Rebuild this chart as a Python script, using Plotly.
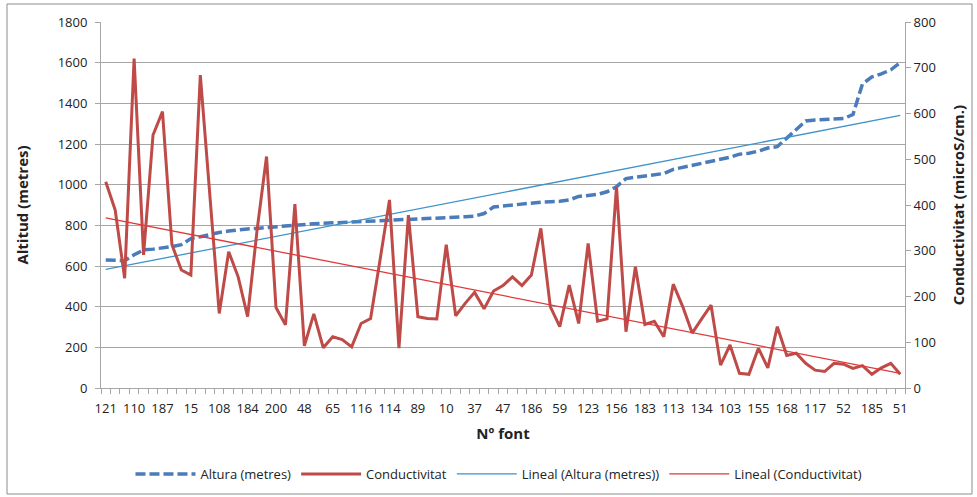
import numpy as np
import plotly.graph_objects as go

# Tick labels (every third source along the axis)
tick_labels = ["121", "110", "187", "15", "108", "184", "200", "48", "65", "116",
               "114", "89", "10", "37", "47", "186", "59", "123", "156", "183",
               "113", "134", "103", "155", "168", "117", "52", "185", "51"]

# Altitude (metres) per source, in plotted order
altura = [630, 628, 626, 655, 679, 683, 688, 695, 705, 735,
          744, 755, 765, 772, 778, 782, 785, 789, 795, 800,
          802, 805, 808, 810, 812, 815, 818, 820, 822, 822,
          824, 825, 826, 828, 830, 832, 835, 838, 842, 845,
          858, 890, 895, 902, 908, 912, 914, 916, 918, 925,
          942, 947, 952, 965, 990, 1030, 1036, 1040, 1046, 1055,
          1075, 1085, 1095, 1105, 1118, 1125, 1135, 1150, 1155, 1165,
          1180, 1187, 1230, 1275, 1313, 1318, 1320, 1322, 1325, 1345,
          1495, 1530, 1545, 1565, 1600]

# Conductivity (microS/cm) per source
conductivitat = [451, 389, 240, 720, 291, 553, 604, 313, 258, 247,
                 684, 423, 163, 298, 243, 156, 345, 506, 176, 138,
                 402, 92, 162, 88, 112, 106, 90, 141, 152, 280,
                 411, 87, 378, 156, 152, 151, 313, 158, 185, 209,
                 173, 212, 224, 243, 224, 247, 349, 178, 134, 225,
                 141, 316, 146, 151, 440, 123, 265, 139, 146, 112,
                 227, 178, 120, 151, 181, 50, 94, 32, 30, 87,
                 44, 134, 71, 76, 54, 39, 36, 54, 52, 43,
                 49, 30, 44, 54, 30]

n = len(altura)
x = np.arange(n)
tick_vals = list(range(0, n, 3))

# Linear trend lines (least squares, as Excel "Lineal")
a1, b1 = np.polyfit(x, altura, 1)
a2, b2 = np.polyfit(x, conductivitat, 1)
trend_alt = a1 * x + b1
trend_cond = a2 * x + b2

FONT = "Open Sans"
fig = go.Figure()
fig.add_trace(go.Scatter(x=x, y=altura, name="Altura (metres)", mode="lines",
                         line=dict(color="#4A7BBA", width=3.5, dash="10px,4px")))
fig.add_trace(go.Scatter(x=x, y=conductivitat, name="Conductivitat", mode="lines",
                         yaxis="y2", line=dict(color="#BE4B48", width=3)))
fig.add_trace(go.Scatter(x=x, y=trend_alt, name="Lineal (Altura (metres))", mode="lines",
                         line=dict(color="#3E93C9", width=1.3)))
fig.add_trace(go.Scatter(x=x, y=trend_cond, name="Lineal (Conductivitat)", mode="lines",
                         yaxis="y2", line=dict(color="#E0393B", width=1.3)))

fig.update_layout(
    width=977, height=497,
    margin=dict(l=101, r=72, t=22, b=109, autoexpand=False),
    paper_bgcolor="white", plot_bgcolor="white",
    font=dict(family=FONT, size=12, color="#222"),
    showlegend=True,
    legend=dict(orientation="h", x=0.495, xanchor="center", y=-0.235, yanchor="middle",
                font=dict(family=FONT, size=13, color="#222"),
                itemwidth=60, traceorder="normal"),
    xaxis=dict(range=[-0.5, n - 0.5], tickmode="array", tickvals=tick_vals,
               ticktext=tick_labels, ticks="", showgrid=False, zeroline=False,
               showline=True, linecolor="#A6A6A6", linewidth=1,
               ticklabelstandoff=8, automargin=False,
               tickfont=dict(family=FONT, size=13, color="#222"),
               minor=dict(ticks="outside", tick0=-0.5, dtick=1, ticklen=5,
                          tickcolor="#A6A6A6", showgrid=False),
               title=dict(text="<b>Nº font</b>", font=dict(family=FONT, size=15, color="#222"),
                          standoff=12)),
    yaxis=dict(range=[0, 1800], dtick=200, tick0=0, showgrid=True, gridcolor="#A6A6A6",
               gridwidth=1, zeroline=False, showline=True, linecolor="#A6A6A6",
               ticks="outside", ticklen=5, tickcolor="#A6A6A6",
               ticklabelstandoff=5, automargin=False,
               tickfont=dict(family=FONT, size=13, color="#222"),
               title=dict(text="<b>Altitud (metres)</b>", font=dict(family=FONT, size=15, color="#222"),
                          standoff=25)),
    yaxis2=dict(range=[0, 800], dtick=100, tick0=0, overlaying="y", side="right",
                showgrid=False, zeroline=False, showline=True, linecolor="#A6A6A6",
                ticks="outside", ticklen=5, tickcolor="#A6A6A6", automargin=False,
                tickfont=dict(family=FONT, size=13, color="#222"),
                title=dict(text="<b>Conductivitat (microS/cm.)</b>",
                           font=dict(family=FONT, size=15, color="#222"), standoff=18)),
    shapes=[dict(type="rect", xref="paper", yref="paper",
                 x0=(7 - 101) / 804, x1=(972 - 101) / 804,
                 y0=(388 - 494) / 366, y1=(388 - 4) / 366,
                 line=dict(color="#8C8C8C", width=1), fillcolor="rgba(0,0,0,0)", layer="below")],
)

fig.write_html("out.html")
